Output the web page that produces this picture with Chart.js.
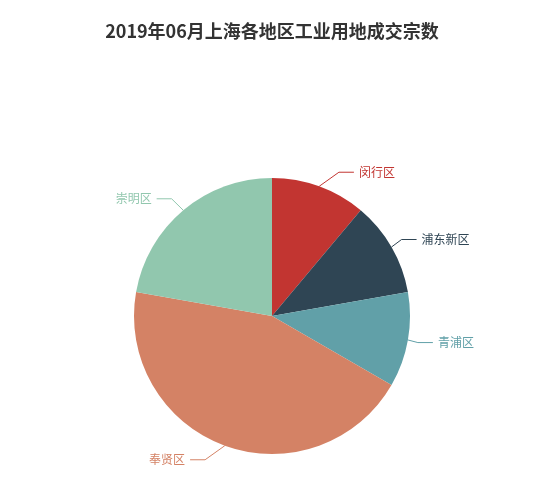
<!DOCTYPE html>
<html>
<head>
<meta charset="utf-8">
<script src="https://cdn.jsdelivr.net/npm/chart.js@4/dist/chart.umd.min.js"></script>
<style>
  html, body { margin: 0; padding: 0; background: #fff; }
  #wrap { width: 550px; height: 490px; }
</style>
</head>
<body>
<div id="wrap"><canvas id="landPie"></canvas></div>
<script>
var districts = ['闵行区', '浦东新区', '青浦区', '奉贤区', '崇明区'];
var deals = [1, 1, 1, 4, 2];
var sliceColors = ['#c23531', '#2f4554', '#61a0a8', '#d48265', '#91c7ae'];
var chartTitle = '2019年06月上海各地区工业用地成交宗数';

var cjk = '"Noto Sans CJK SC", "Noto Sans", sans-serif';

// leader lines + outside labels, placed from each arc's own geometry
var outsideLabels = {
    id: 'outsideLabels',
    afterDatasetsDraw: function (chart) {
        var ctx = chart.ctx;
        var meta = chart.getDatasetMeta(0);
        meta.data.forEach(function (arc, i) {
            var p = arc.getProps(['x', 'y', 'startAngle', 'endAngle', 'outerRadius'], true);
            var mid = (p.startAngle + p.endAngle) / 2;
            var r = p.outerRadius;
            var sx = p.x + Math.cos(mid) * r;
            var sy = p.y + Math.sin(mid) * r;
            var ly = p.y + Math.sin(mid) * (r + 15);
            var side = Math.cos(mid) >= 0 ? 1 : -1;
            var dy = Math.abs(ly - p.y);
            var d = Math.sqrt((r + 30) * (r + 30) - dy * dy);
            var color = sliceColors[i];
            ctx.save();
            ctx.strokeStyle = color;
            ctx.lineWidth = 1;
            ctx.beginPath();
            ctx.moveTo(sx, sy);
            ctx.lineTo(p.x + side * (d - 20), ly);
            ctx.lineTo(p.x + side * (d - 5), ly);
            ctx.stroke();
            ctx.fillStyle = color;
            ctx.font = '12px ' + cjk;
            ctx.textBaseline = 'middle';
            ctx.textAlign = side > 0 ? 'left' : 'right';
            ctx.fillText(districts[i], p.x + side * d, ly);
            ctx.restore();
        });
    }
};

new Chart(document.getElementById('landPie'), {
    type: 'pie',
    plugins: [outsideLabels],
    data: {
        labels: districts,
        datasets: [{
            data: deals,
            backgroundColor: sliceColors,
            borderWidth: 0,
        }]
    },
    options: {
        responsive: true,
        maintainAspectRatio: false,
        animation: false,
        layout: {
            padding: { left: 0, right: 6, top: 0, bottom: 36 }
        },
        plugins: {
            legend: { display: false },
            tooltip: { enabled: false },
            title: {
                display: true,
                text: chartTitle,
                color: '#333',
                font: { family: cjk, size: 18, weight: 'bold', lineHeight: 1.2 },
                padding: { top: 20, bottom: 136.4 },
            }
        }
    }
});
</script>
</body>
</html>
